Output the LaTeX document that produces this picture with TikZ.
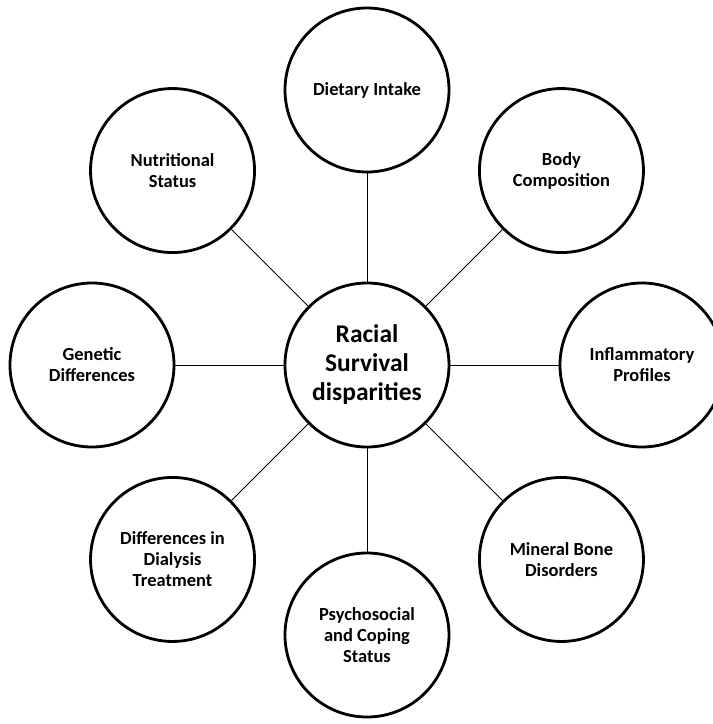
\documentclass[tikz,border=0pt]{standalone}
\usepackage{fontspec}
\setmainfont{Carlito}

\begin{document}
\begin{tikzpicture}[
    every node/.style={align=center},
    hub/.style={circle, draw, line width=1.6pt, minimum size=3.28cm, inner sep=0pt, font=\fontsize{14.5}{16.5}\bfseries\selectfont},
    factor/.style={circle, draw, line width=1.6pt, minimum size=3.28cm, inner sep=0pt, font=\fontsize{10.5}{12}\bfseries\selectfont},
    link/.style={line width=0.5pt}
]
    \useasboundingbox (-7.34,-7.18) rectangle (6.92,7.30);

    % Centre
    \node[hub] (racial) at (0,0) {Racial\\Survival\\disparities};

    % Factors around the centre
    \node[factor] (diet) at (90:5.5) {Dietary Intake};
    \node[factor] (body) at (45:5.5) {Body\\Composition};
    \node[factor] (inflam) at (0:5.5) {Inflammatory\\Profiles};
    \node[factor] (mineral) at (-45:5.5) {Mineral Bone\\Disorders};
    \node[factor] (psycho) at (-90:5.4) {Psychosocial\\and Coping\\Status};
    \node[factor] (dialysis) at (-135:5.5) {Differences in\\Dialysis\\Treatment};
    \node[factor] (genetic) at (180:5.5) {Genetic\\Differences};
    \node[factor] (nutri) at (135:5.5) {Nutritional\\Status};

    % Links
    \draw[link] (racial) -- (diet);
    \draw[link] (racial) -- (body);
    \draw[link] (racial) -- (inflam);
    \draw[link] (racial) -- (mineral);
    \draw[link] (racial) -- (psycho);
    \draw[link] (racial) -- (dialysis);
    \draw[link] (racial) -- (genetic);
    \draw[link] (racial) -- (nutri);

\end{tikzpicture}
\end{document}
